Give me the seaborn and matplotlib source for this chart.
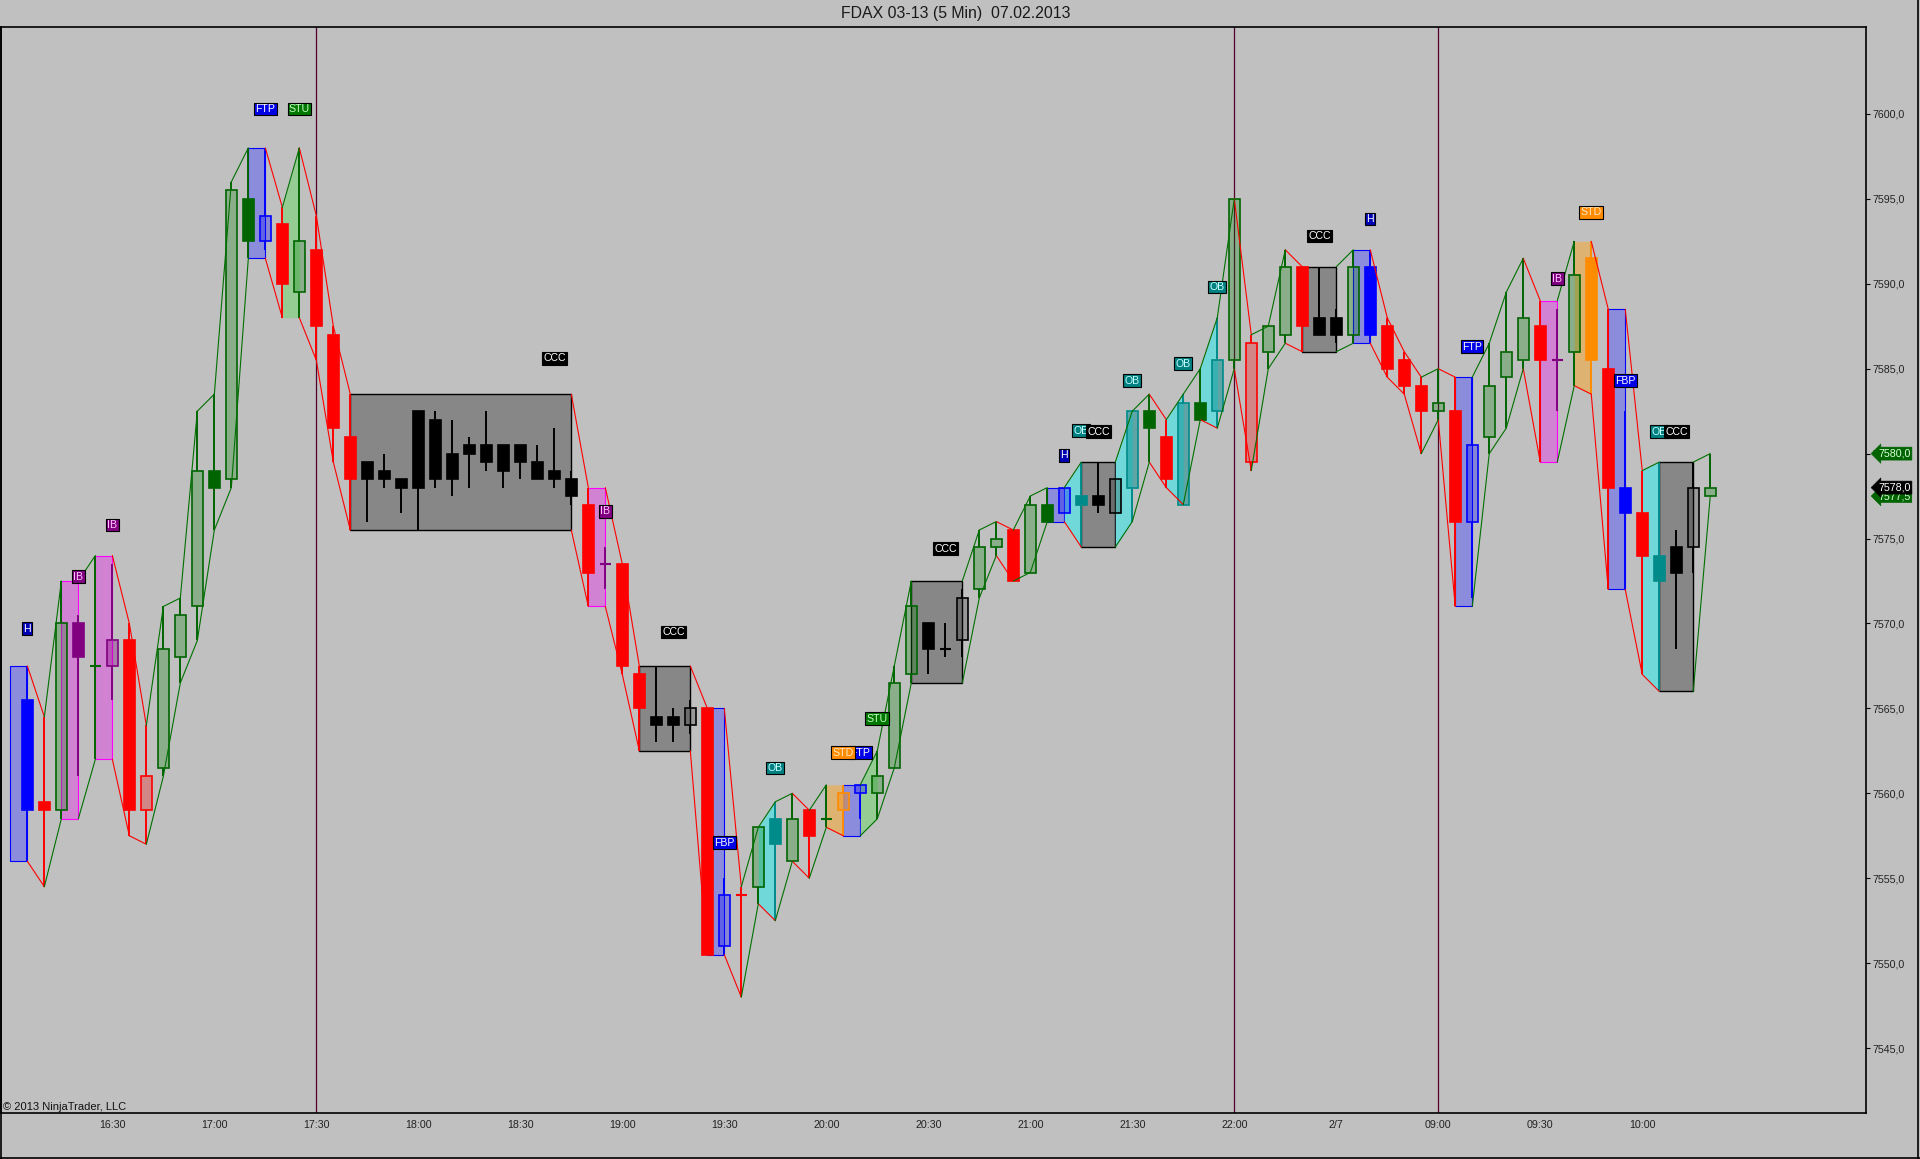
import numpy as np
import pandas as pd
import matplotlib
matplotlib.use("Agg")
import matplotlib.pyplot as plt
from matplotlib.patches import Rectangle
from matplotlib.lines import Line2D
import seaborn as sns

OUT_FILE = "out.png"
TITLE = "FDAX 03-13 (5 Min)  07.02.2013"
COPYRIGHT = "\u00a9 2013 NinjaTrader, LLC"

# 5 min bars, bar 0 = 16:05
opens = [7565.5, 7559.5, 7559.0, 7570.0, 7567.5, 7567.5, 7569.0, 7559.0, 7561.5, 7568.0,
         7571.0, 7579.0, 7578.5, 7595.0, 7592.5, 7593.5, 7589.5, 7592.0, 7587.0, 7581.0,
         7579.5, 7579.0, 7578.5, 7582.5, 7582.0, 7580.0, 7580.5, 7580.5, 7580.5, 7580.5,
         7579.5, 7579.0, 7578.5, 7577.0, 7573.5, 7573.5, 7567.0, 7564.5, 7564.5, 7564.0,
         7565.0, 7551.0, 7554.0, 7554.5, 7558.5, 7556.0, 7559.0, 7558.5, 7559.0, 7560.0,
         7560.0, 7561.5, 7567.0, 7570.0, 7568.5, 7569.0, 7572.0, 7574.5, 7575.5, 7573.0,
         7577.0, 7576.5, 7577.5, 7577.5, 7576.5, 7578.0, 7582.5, 7581.0, 7577.0, 7583.0,
         7582.5, 7585.5, 7579.5, 7586.0, 7587.0, 7591.0, 7588.0, 7588.0, 7587.0, 7591.0,
         7587.5, 7585.5, 7584.0, 7582.5, 7582.5, 7576.0, 7581.0, 7584.5, 7585.5, 7587.5,
         7585.5, 7586.0, 7591.5, 7585.0, 7578.0, 7576.5, 7574.0, 7574.5, 7574.5, 7577.5]
highs = [7567.5, 7564.5, 7572.5, 7570.5, 7574.0, 7573.5, 7570.0, 7564.0, 7571.0, 7571.5,
         7582.5, 7583.5, 7596.0, 7598.0, 7598.0, 7594.5, 7598.0, 7594.0, 7587.5, 7583.5,
         7579.5, 7580.0, 7578.5, 7582.5, 7582.5, 7582.0, 7581.0, 7582.5, 7580.5, 7580.5,
         7580.5, 7581.5, 7579.0, 7578.0, 7574.5, 7573.5, 7567.5, 7567.5, 7565.0, 7565.5,
         7565.0, 7555.0, 7554.5, 7558.0, 7559.5, 7560.0, 7559.0, 7560.5, 7560.5, 7560.5,
         7562.5, 7567.5, 7572.5, 7570.0, 7570.0, 7572.0, 7575.5, 7576.0, 7575.5, 7577.5,
         7578.0, 7578.0, 7579.5, 7579.5, 7578.5, 7582.5, 7583.5, 7582.0, 7583.5, 7585.0,
         7588.0, 7595.0, 7587.0, 7587.5, 7592.0, 7591.0, 7591.0, 7588.5, 7592.0, 7592.0,
         7588.0, 7586.0, 7584.5, 7585.0, 7584.5, 7584.5, 7586.5, 7589.5, 7591.5, 7589.0,
         7588.5, 7592.5, 7592.5, 7588.5, 7582.5, 7579.0, 7579.5, 7575.5, 7579.5, 7580.0]
lows = [7556.0, 7554.5, 7558.5, 7561.0, 7562.0, 7565.5, 7557.5, 7557.0, 7561.0, 7566.5,
        7569.0, 7575.5, 7578.0, 7591.5, 7592.0, 7588.0, 7588.0, 7585.5, 7579.5, 7575.5,
        7576.0, 7578.0, 7576.5, 7575.5, 7578.0, 7577.5, 7578.0, 7579.0, 7578.0, 7578.5,
        7578.5, 7578.0, 7577.0, 7571.0, 7572.0, 7567.0, 7562.5, 7563.0, 7563.0, 7563.5,
        7550.5, 7550.5, 7548.0, 7553.5, 7552.5, 7556.0, 7555.0, 7558.0, 7557.5, 7558.5,
        7558.5, 7561.5, 7566.5, 7567.0, 7568.0, 7568.0, 7571.5, 7574.0, 7572.5, 7573.0,
        7576.0, 7576.5, 7574.5, 7576.5, 7576.5, 7576.0, 7579.5, 7578.0, 7577.0, 7582.0,
        7581.5, 7585.0, 7579.0, 7585.0, 7586.5, 7586.0, 7587.0, 7586.5, 7586.5, 7586.5,
        7584.5, 7583.5, 7580.0, 7582.0, 7571.0, 7571.5, 7580.0, 7581.5, 7585.0, 7579.5,
        7582.5, 7584.0, 7583.5, 7572.0, 7572.0, 7567.0, 7566.0, 7568.5, 7573.0, 7577.5]
closes = [7559.0, 7559.0, 7570.0, 7568.0, 7567.5, 7569.0, 7559.0, 7561.0, 7568.5, 7570.5,
          7579.0, 7578.0, 7595.5, 7592.5, 7594.0, 7590.0, 7592.5, 7587.5, 7581.5, 7578.5,
          7578.5, 7578.5, 7578.0, 7578.0, 7578.5, 7578.5, 7580.0, 7579.5, 7579.0, 7579.5,
          7578.5, 7578.5, 7577.5, 7573.0, 7573.5, 7567.5, 7565.0, 7564.0, 7564.0, 7565.0,
          7550.5, 7554.0, 7554.0, 7558.0, 7557.0, 7558.5, 7557.5, 7558.5, 7560.0, 7560.5,
          7561.0, 7566.5, 7571.0, 7568.5, 7568.5, 7571.5, 7574.5, 7575.0, 7572.5, 7577.0,
          7576.0, 7578.0, 7577.0, 7577.0, 7578.5, 7582.5, 7581.5, 7578.5, 7583.0, 7582.0,
          7585.5, 7595.0, 7586.5, 7587.5, 7591.0, 7587.5, 7587.0, 7587.0, 7591.0, 7587.0,
          7585.0, 7584.0, 7582.5, 7583.0, 7576.0, 7580.5, 7584.0, 7586.0, 7588.0, 7585.5,
          7585.5, 7590.5, 7585.5, 7578.0, 7576.5, 7574.0, 7572.5, 7573.0, 7578.0, 7578.0]

# paint colour code per bar (pattern painting)
paint = ("brgpgprrgg" "ggggbrgrrr" "kkkkkkkkkk" "kkkrprrkkk" "rbrgtgrgob"
         "gggkkkggrg" "gbtkktgrtg" "tgrggrkkgb" "rrrgrbgggr" "pgorbrtkkg")

# pattern boxes (first bar, last bar, pattern)
box_start = [-1, 2, 4, 13, 19, 33, 36, 40, 48, 52, 60, 62, 75, 78, 84, 89, 93, 96]
box_end = [0, 3, 5, 14, 32, 34, 39, 41, 49, 55, 61, 64, 77, 79, 85, 90, 94, 98]
box_kind = ["H", "IB", "IB", "FTP", "CCC", "IB", "CCC", "FBP", "FTP", "CCC",
            "H", "CCC", "CCC", "H", "FTP", "IB", "FBP", "CCC"]

# shaded swings between the high and low lines
fill_start = [15, 43, 47, 49, 61, 64, 67, 69, 91, 95]
fill_end = [16, 44, 48, 50, 62, 65, 68, 70, 92, 96]
fill_kind = ["STU", "OB", "STD", "STU", "OB", "OB", "OB", "OB", "STD", "OB"]

label_text = ["H", "IB", "IB", "FTP", "STU", "CCC", "IB", "CCC", "FBP", "OB",
              "FTP", "STD", "STU", "CCC", "H", "OB", "CCC", "OB", "OB", "OB",
              "CCC", "H", "FTP", "IB", "STD", "FBP", "OB", "CCC"]
label_bar = [0, 3, 5, 14, 16, 31, 34, 38, 41, 44, 49, 48, 50, 54, 61, 62, 63, 65, 68, 70,
             76, 79, 85, 90, 92, 94, 96, 97]
label_price = [7569.7, 7572.75, 7575.8, 7600.3, 7600.3, 7585.6, 7576.6, 7569.5, 7557.1, 7561.5,
               7562.4, 7562.4, 7564.4, 7574.4, 7579.9, 7581.35, 7581.3, 7584.3, 7585.3, 7589.8,
               7592.8, 7593.8, 7586.3, 7590.3, 7594.2, 7584.3, 7581.3, 7581.3]

tick_bars = [5, 11, 17, 23, 29, 35, 41, 47, 53, 59, 65, 71, 77, 83, 89, 95]
tick_labels = ["16:30", "17:00", "17:30", "18:00", "18:30", "19:00", "19:30", "20:00",
               "20:30", "21:00", "21:30", "22:00", "2/7", "09:00", "09:30", "10:00"]
session_bars = [17, 71, 83]

tag_values = [7577.5, 7580.0, 7578.0]
tag_colors = ["#006400", "#006400", "black"]

BG = "#C0C0C0"
edge_col = {"g": "#006400", "r": "#FF0000", "b": "#0000FF", "p": "#800080",
            "k": "#000000", "t": "#008B8B", "o": "#FF8C00"}
hollow_col = {"g": (0, 0.5, 0, 0.28), "r": (1, 0, 0, 0.3), "b": (0, 0, 1, 0.3),
              "p": (0.5, 0, 0.5, 0.35), "k": (0, 0, 0, 0.2), "t": (0, 0.545, 0.545, 0.5),
              "o": (1, 0.55, 0, 0.4)}
zone_fill = {"H": "#8C8CDC", "FTP": "#8C8CDC", "FBP": "#8C8CDC", "IB": "#D282D2",
             "CCC": "#878787", "STU": "#94CC94", "STD": "#DEB270", "OB": "#70D8D8"}
zone_edge = {"H": "#0000FF", "FTP": "#0000FF", "FBP": "#0000FF", "IB": "#FF00FF", "CCC": "black"}
label_style = {"H": ("#0000B4", "white"), "IB": ("#800080", "#FFC8FF"),
               "FTP": ("#0000E6", "white"), "FBP": ("#0000E6", "white"),
               "STU": ("#007800", "#C8FFC8"), "STD": ("#FF8C00", "#FFE8C8"),
               "OB": ("#008080", "#C8FFFF"), "CCC": ("black", "white")}

sns.set_theme(style="white", rc={"axes.facecolor": BG, "figure.facecolor": BG})
plt.rcParams["font.family"] = ["Liberation Sans", "DejaVu Sans"]

o = np.array(opens)
h = np.array(highs)
l = np.array(lows)
c = np.array(closes)
x = np.arange(len(o))

# envelope: pattern boxes take the range of the whole box
env_hi = h.copy()
env_lo = l.copy()
for i0, i1 in zip(box_start, box_end):
    sl = slice(max(i0, 0), i1 + 1)
    env_hi[sl] = h[sl].max()
    env_lo[sl] = l[sl].min()

fig = plt.figure(figsize=(19.2, 11.59), dpi=100)
ax = fig.add_axes([0.00052, 0.03943, 0.9716, 0.93702])
ax.set_facecolor(BG)

for i0, i1, k in zip(box_start, box_end, box_kind):
    sl = slice(max(i0, 0), i1 + 1)
    top, bot = env_hi[sl].max(), env_lo[sl].min()
    ax.add_patch(Rectangle((i0, bot), i1 - i0, top - bot, fc=zone_fill[k],
                           ec=zone_edge[k], lw=1.0 if k == "CCC" else 0.8, zorder=1))

for i0, i1, k in zip(fill_start, fill_end, fill_kind):
    xs = x[i0:i1 + 1]
    ax.fill_between(xs, env_lo[i0:i1 + 1], env_hi[i0:i1 + 1], color=zone_fill[k], lw=0, zorder=1)

for i in session_bars:
    ax.axvline(i, color="#50002A", lw=0.9, zorder=1.5)

# candles
w = 0.64
for i in x:
    col = edge_col[paint[i]]
    top, bot = max(o[i], c[i]), min(o[i], c[i])
    ax.vlines(i, l[i], bot, color=col, lw=1.4, zorder=3)
    ax.vlines(i, top, h[i], color=col, lw=1.4, zorder=3)
    if c[i] == o[i]:
        ax.hlines(o[i], i - w / 2, i + w / 2, color=col, lw=1.5, zorder=3)
        continue
    fc = hollow_col[paint[i]] if c[i] > o[i] else col
    ax.add_patch(Rectangle((i - w / 2, bot), w, top - bot, fc=fc, ec=col, lw=1.2, zorder=3))

# high / low lines, green when rising, red when falling
rows = []
seg = 0
for env in (env_hi, env_lo):
    for i in range(len(env) - 1):
        if env[i + 1] == env[i]:
            continue
        d = "up" if env[i + 1] > env[i] else "down"
        rows.append((seg, i, env[i], d))
        rows.append((seg, i + 1, env[i + 1], d))
        seg += 1
seg_df = pd.DataFrame(rows, columns=["seg", "x", "y", "dir"])
sns.lineplot(data=seg_df, x="x", y="y", hue="dir", units="seg", estimator=None,
             palette={"up": "#007000", "down": "#FF0000"}, legend=False, lw=0.8,
             ax=ax, zorder=4)

for t, b, p in zip(label_text, label_bar, label_price):
    bg, tc = label_style[t]
    ax.text(b, p, t, ha="center", va="center", fontsize=7.6, color=tc, zorder=6,
            bbox=dict(boxstyle="square,pad=0.12", fc=bg, ec="black", lw=0.8))

ax.set_xlim(-1.55, 108.19)
ax.set_ylim(7541.16, 7605.10)
ax.set_xlabel("")
ax.set_ylabel("")

yt = np.arange(7545, 7601, 5)
ax.set_yticks(yt)
ax.set_yticklabels([f"{v:.1f}".replace(".", ",") for v in yt])
ax.yaxis.tick_right()
ax.tick_params(axis="y", direction="out", length=3, width=0.8, pad=1,
               labelsize=7.7, color="black", labelcolor="#222222")
ax.set_xticks(tick_bars)
ax.set_xticklabels(tick_labels)
ax.tick_params(axis="x", direction="out", length=3.6, width=0.8, pad=1.5,
               labelsize=7.7, color="black", labelcolor="#222222")
for s in ax.spines.values():
    s.set_visible(True)
    s.set_color("black")
    s.set_linewidth(1.2)

# last high, close and low tags on the price axis
ytr = ax.get_yaxis_transform()
for v, col in zip(tag_values, tag_colors):
    tc = "white" if col == "black" else "#D8FFD8"
    ax.text(1.0062, v, f"{v:.1f}".replace(".", ","), transform=ytr, ha="left", va="center",
            fontsize=7.7, color=tc, clip_on=False, zorder=7,
            bbox=dict(boxstyle="larrow,pad=0.14", fc=col, ec=col, lw=0.4))

fig.text(0.498, 0.9885, TITLE, ha="center", va="center", fontsize=11.4, color="#1A1A1A")
fig.text(0.0016, 0.0451, COPYRIGHT, ha="left", va="center", fontsize=8, color="#111111")

for xs, ys in (([0.0005, 0.0005], [0, 0.9764]), ([0.9991, 0.9991], [0, 1]), ([0, 1], [0.0009, 0.0009])):
    fig.add_artist(Line2D(xs, ys, transform=fig.transFigure, color="black", lw=1.2))

fig.savefig(OUT_FILE, dpi=100, facecolor=fig.get_facecolor())
